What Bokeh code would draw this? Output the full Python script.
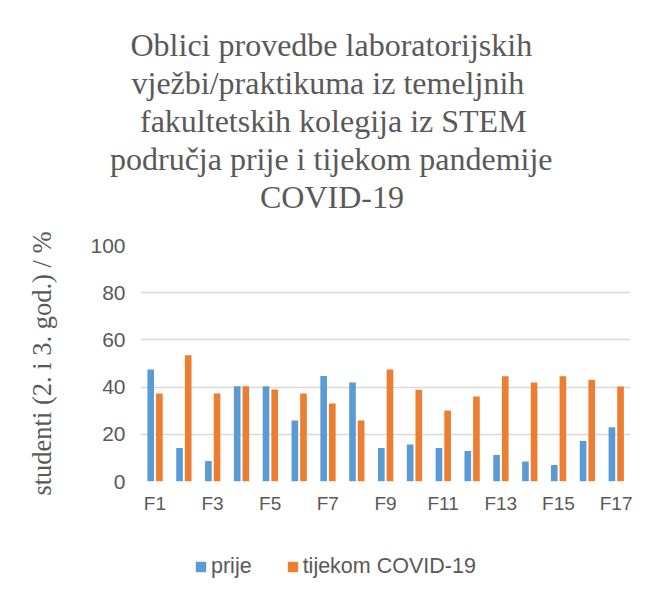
from bokeh.plotting import figure
from bokeh.layouts import column
from bokeh.models import ColumnDataSource, Range1d, FixedTicker, Title, Legend, LegendItem
from bokeh.transform import dodge
from bokeh.embed import file_html
from bokeh.resources import INLINE

categories = ["F1", "F2", "F3", "F4", "F5", "F6", "F7", "F8", "F9", "F10",
              "F11", "F12", "F13", "F14", "F15", "F16", "F17"]
prije = [47.5, 14.2, 8.7, 40.4, 40.4, 25.8, 44.7, 41.9, 14.2, 15.7,
         14.2, 12.9, 11.2, 8.5, 7.0, 17.2, 23.0]
tijekom = [37.3, 53.5, 37.3, 40.4, 39.0, 37.3, 33.1, 25.8, 47.5, 38.9,
           30.1, 36.0, 44.6, 41.9, 44.6, 43.1, 40.3]
y_ticks = [0, 20, 40, 60, 80, 100]
title_lines = ["Oblici provedbe laboratorijskih",
               "vježbi/praktikuma iz temeljnih",
               "fakultetskih kolegija iz STEM",
               "područja prije i tijekom pandemije",
               "COVID-19"]
series_names = ["prije", "tijekom COVID-19"]
y_label = "studenti (2. i 3. god.) / %"

# horizontal pixel offsets of each title line (left-aligned so the block centres at x~332)
title_offsets = [-10, -9, -0.5, -30.5, 119.5]

xs = list(range(1, len(categories) + 1))
src = ColumnDataSource(dict(x=xs, prije=prije, tijekom=tijekom))

blue = "#5B9BD5"
orange = "#ED7D31"
grey = "#595959"

p = figure(frame_width=490, frame_height=236, output_backend="svg", toolbar_location=None,
           x_range=Range1d(0.5, len(categories) + 0.5), y_range=Range1d(0, 100))
p.min_border_left = 140
p.min_border_right = 10
p.min_border_bottom = 50
p.min_border_top = 245
p.outline_line_color = None

p.vbar(x=dodge("x", -0.145, range=p.x_range), top="prije", width=0.23,
       source=src, fill_color=blue, line_color=None)
p.vbar(x=dodge("x", 0.155, range=p.x_range), top="tijekom", width=0.23,
       source=src, fill_color=orange, line_color=None)

p.xgrid.grid_line_color = None
p.ygrid.grid_line_color = "#d9d9d9"
p.ygrid.grid_line_width = 1.5
p.yaxis.ticker = FixedTicker(ticks=y_ticks)
p.xaxis.ticker = FixedTicker(ticks=xs[::2])
p.xaxis.major_label_overrides = {x: c for x, c in zip(xs, categories)}
for ax in (p.xaxis, p.yaxis):
    ax.axis_line_color = None
    ax.major_tick_line_color = None
    ax.minor_tick_line_color = None
    ax.major_label_text_font = "Liberation Sans"
    ax.major_label_text_font_size = "19px"
    ax.major_label_text_color = grey
p.yaxis.major_label_text_font_size = "21px"
p.yaxis.major_label_standoff = 9
p.xaxis.major_label_standoff = 5
p.yaxis.axis_label = y_label
p.yaxis.axis_label_text_font = "Liberation Serif"
p.yaxis.axis_label_text_font_size = "26.5px"
p.yaxis.axis_label_text_font_style = "normal"
p.yaxis.axis_label_text_color = grey
p.yaxis.axis_label_standoff = 30

# spacer between the title block and the plot area
p.add_layout(Title(text=" ", text_font_size="1px", standoff=28), "above")
for line, off in zip(reversed(title_lines), reversed(title_offsets)):
    p.add_layout(Title(text=line, align="left", offset=off,
                       text_font="Liberation Serif", text_font_size="32px",
                       text_font_style="normal", text_color=grey,
                       standoff=0, text_line_height=1.0), "above")

# legend figure (shares the same data source, bars kept out of view)
lf = figure(width=640, height=62, output_backend="svg", toolbar_location=None,
            x_range=Range1d(1000, 1001), y_range=Range1d(1000, 1001),
            min_border=0)
lf.axis.visible = False
lf.grid.visible = False
lf.outline_line_color = None
l1 = lf.vbar(x="x", top="prije", width=0.23, source=src, fill_color=blue, line_color=None)
l2 = lf.vbar(x="x", top="tijekom", width=0.23, source=src, fill_color=orange, line_color=None)
legend = Legend(items=[LegendItem(label=series_names[0], renderers=[l1]),
                       LegendItem(label=series_names[1], renderers=[l2])],
                orientation="horizontal", location=(54, 14),
                label_text_font="Liberation Sans", label_text_font_size="21.5px",
                label_text_color=grey, glyph_width=13, glyph_height=13,
                spacing=34, border_line_color=None, background_fill_alpha=0,
                margin=0, padding=0, label_standoff=4)
lf.add_layout(legend, "center")

layout = column(p, lf, spacing=0)
open("out.html", "w").write(file_html(layout, INLINE))
